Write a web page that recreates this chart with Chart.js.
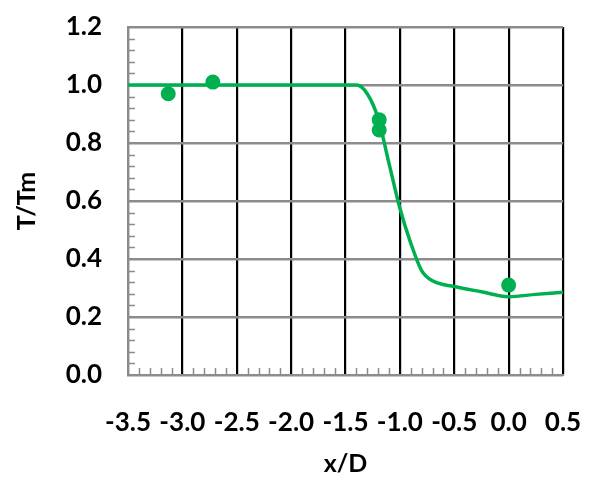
<!DOCTYPE html>
<html>
<head>
<meta charset="utf-8">
<script src="https://cdn.jsdelivr.net/npm/chart.js@4"></script>
<style>
  html, body { margin: 0; padding: 0; background: #fff; }
  canvas { display: block; }
</style>
</head>
<body>
<canvas id="tempChart" width="591" height="485"></canvas>
<script>
// Perfil de temperatura adimensional T/Tm a lo largo de x/D
const curveX = [-3.5, -2.5, -1.5, -1.4, -1.3, -1.2, -1.1, -1.0, -0.9, -0.8, -0.7, -0.5, -0.25, 0.0, 0.25, 0.5];
const curveY = [1.0, 1.0, 1.0, 1.0, 0.97, 0.885, 0.73, 0.575, 0.455, 0.36, 0.325, 0.305, 0.287, 0.27, 0.278, 0.285];

// Mediciones
const measX = [-3.13, -2.72, -1.19, -1.19, 0.0];
const measY = [0.97, 1.01, 0.88, 0.845, 0.31];

const xMin = -3.5, xMax = 0.5, xStep = 0.5;
const yMin = 0.0, yMax = 1.2, yStep = 0.2;

const GREEN = '#00b050';
const FONT = 'Lato';

// Marcas menores dentro del área del gráfico
const minorTicks = {
    id: 'minorTicks',
    beforeDatasetsDraw(chart) {
        const { ctx, chartArea, scales } = chart;
        ctx.save();
        ctx.strokeStyle = '#8c8c8c';
        ctx.lineWidth = 1.5;
        ctx.beginPath();
        for (let i = 1; i < 30; i++) {
            if (i % 5 === 0) continue;
            const y = Math.round(scales.y.getPixelForValue(yMin + i * 0.04)) + 0.5;
            ctx.moveTo(chartArea.left, y);
            ctx.lineTo(chartArea.left + 7, y);
        }
        for (let i = 1; i < 40; i++) {
            if (i % 5 === 0) continue;
            const x = Math.round(scales.x.getPixelForValue(xMin + i * 0.1)) + 0.5;
            ctx.moveTo(x, chartArea.bottom);
            ctx.lineTo(x, chartArea.bottom - 7);
        }
        ctx.stroke();
        ctx.restore();
    }
};

const padding = { left: 8, right: 28, top: 27, bottom: 2 };

// El área del gráfico la fija solo el padding del layout
function noLabelPadding(scale) {
    scale.paddingTop = scale.paddingBottom = scale.paddingLeft = scale.paddingRight = 0;
}

new Chart(document.getElementById('tempChart').getContext('2d'), {
    type: 'scatter',
    data: {
        datasets: [
            {
                data: measX.map((x, i) => ({ x: x, y: measY[i] })),
                backgroundColor: GREEN,
                borderWidth: 0,
                pointRadius: 7.5,
                order: 0
            },
            {
                data: curveX.map((x, i) => ({ x: x, y: curveY[i] })),
                showLine: true,
                borderColor: GREEN,
                borderWidth: 3.5,
                pointRadius: 0,
                cubicInterpolationMode: 'monotone',
                order: 1
            }
        ]
    },
    options: {
        responsive: false,
        animation: false,
        layout: { padding: padding },
        plugins: {
            legend: { display: false },
            tooltip: { enabled: false }
        },
        scales: {
            x: {
                type: 'linear',
                min: xMin,
                max: xMax,
                afterFit(scale) {
                    scale.height = 485 - 375 - padding.bottom;
                    noLabelPadding(scale);
                },
                ticks: {
                    stepSize: xStep,
                    padding: 32,
                    color: '#000',
                    font: { family: FONT, size: 26, weight: 'bold' },
                    callback: v => v.toFixed(1)
                },
                grid: { color: '#000', lineWidth: 2.2, drawTicks: false },
                border: { color: '#8c8c8c', width: 2 },
                title: {
                    display: true,
                    text: 'x/D',
                    color: '#000',
                    font: { family: FONT, size: 25, weight: 'bold' },
                    padding: { top: 12 }
                }
            },
            y: {
                min: yMin,
                max: yMax,
                afterFit(scale) {
                    scale.width = 128 - padding.left;
                    noLabelPadding(scale);
                },
                ticks: {
                    stepSize: yStep,
                    padding: 26,
                    color: '#000',
                    font: { family: FONT, size: 26, weight: 'bold' },
                    callback: v => v.toFixed(1)
                },
                grid: { color: '#8c8c8c', lineWidth: 2.5, drawTicks: false },
                border: { color: '#8c8c8c', width: 2 },
                title: {
                    display: true,
                    text: 'T/Tm',
                    color: '#000',
                    font: { family: FONT, size: 25, weight: 'bold' },
                    padding: { bottom: 10 }
                }
            }
        }
    },
    plugins: [minorTicks]
});
</script>
</body>
</html>
